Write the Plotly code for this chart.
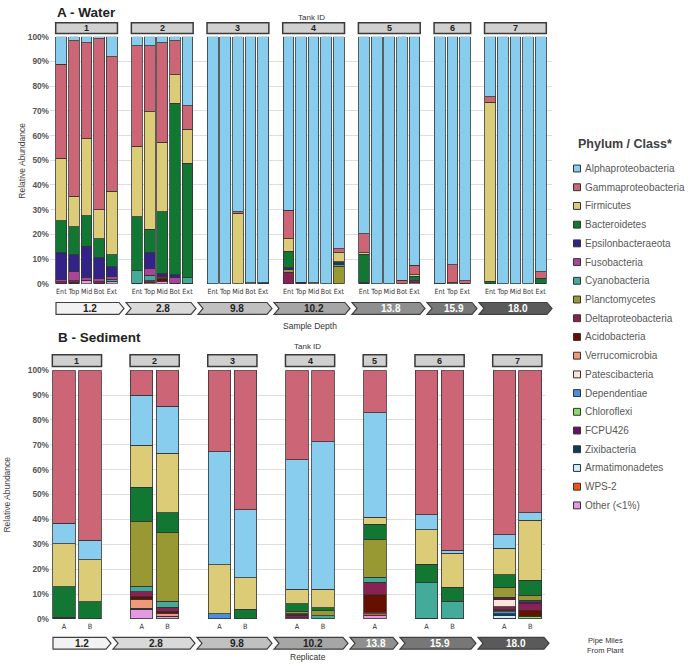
import plotly.graph_objects as go

W, H = 696, 668
def px(x): return x / W
def py(y): return 1 - y / H

# ---------------- data ----------------
series = ["Alphaproteobacteria", "Gammaproteobacteria", "Firmicutes", "Bacteroidetes",
          "Epsilonbacteraeota", "Fusobacteria", "Cyanobacteria", "Planctomycetes",
          "Deltaproteobacteria", "Acidobacteria", "Verrucomicrobia", "Patescibacteria",
          "Dependentiae", "Chloroflexi", "FCPU426", "Zixibacteria", "Armatimonadetes",
          "WPS-2", "Other (<1%)"]
colors = ["#88CCEE", "#CC6677", "#DDCC77", "#117733", "#332288", "#AA4499", "#44AA99",
          "#999933", "#882255", "#661100", "#EE9977", "#FDE4D6", "#4A8FD9", "#88DD66",
          "#661166", "#0B3D5C", "#CCEEFF", "#EE5511", "#E49AE0"]

tanks = ["1", "2", "3", "4", "5", "6", "7"]
depths = ["1.2", "2.8", "9.8", "10.2", "13.8", "15.9", "18.0"]

# Panel A - water: sample positions per tank
water_samples = [["Ent", "Top", "Mid", "Bot", "Ext"], ["Ent", "Top", "Mid", "Bot", "Ext"],
                 ["Ent", "Top", "Mid", "Bot", "Ext"], ["Ent", "Top", "Mid", "Bot", "Ext"],
                 ["Ent", "Top", "Mid", "Bot", "Ext"], ["Ent", "Top", "Ext"],
                 ["Ent", "Top", "Mid", "Bot", "Ext"]]
# values (%) in bar order: T1(5) T2(5) T3(5) T4(5) T5(5) T6(3) T7(5)
water = {
    "Alphaproteobacteria": [11.2, 1.5, 2.5, 0.8, 8.0,  3.6, 3.6, 2.4, 1.5, 27.9,  100, 100, 70.8, 99.5, 99.5,
                            70.3, 99.4, 99.5, 100, 85.8,  79.8, 100, 100, 98.5, 92.6,  99.7, 92.2, 98.8,
                            24.3, 100, 100, 100, 95.2],
    "Gammaproteobacteria": [38.0, 63.0, 38.7, 69.3, 54.5,  40.7, 26.7, 40.3, 13.8, 9.5,  0, 0, 0.7, 0, 0,
                            11.5, 0, 0, 0, 1.6,  7.7, 0, 0, 1.5, 3.8,  0.3, 7.1, 1.0,
                            2.2, 0, 0, 0, 2.5],
    "Firmicutes":          [25.3, 12.4, 31.3, 11.7, 25.7,  28.6, 47.6, 28.2, 11.7, 13.7,  0, 0, 28.5, 0.5, 0,
                            5.0, 0, 0.5, 0, 3.6,  0.5, 0, 0, 0, 0.5,  0, 0.7, 0,
                            72.5, 0, 0, 0, 0],
    "Bacteroidetes":       [13.0, 11.3, 12.3, 7.7, 4.9,  21.8, 9.6, 25.1, 69.4, 46.5,  0, 0, 0, 0, 0,
                            6.7, 0, 0, 0, 0.5,  11.5, 0, 0, 0, 1.8,  0, 0, 0,
                            1.0, 0, 0, 0, 2.0],
    "Epsilonbacteraeota":  [10.8, 6.9, 12.5, 8.5, 4.1,  0, 6.4, 1.0, 1.1, 0,  0, 0, 0, 0, 0.5,
                            0.9, 0, 0, 0, 0.5,  0.5, 0, 0, 0, 0,  0, 0, 0,
                            0, 0, 0, 0, 0.3],
    "Fusobacteria":        [0.9, 3.7, 1.2, 1.2, 1.0,  0, 2.6, 0, 2.2, 0,  0, 0, 0, 0, 0,
                            0, 0, 0, 0, 0,  0, 0, 0, 0, 0,  0, 0, 0,
                            0, 0, 0, 0, 0],
    "Cyanobacteria":       [0, 0, 0, 0, 0.8,  5.0, 2.3, 0, 0, 2.1,  0, 0, 0, 0, 0,
                            0, 0, 0, 0, 1.0,  0, 0, 0, 0, 0,  0, 0, 0,
                            0, 0, 0, 0, 0],
    "Planctomycetes":      [0, 0, 0, 0, 0,  0, 0, 0, 0, 0,  0, 0, 0, 0, 0,
                            1.0, 0, 0, 0, 7.0,  0, 0, 0, 0, 0,  0, 0, 0,
                            0, 0, 0, 0, 0],
    "Deltaproteobacteria": [0.5, 0.6, 0, 0.5, 0,  0, 0.7, 1.0, 0, 0,  0, 0, 0, 0, 0,
                            4.6, 0.6, 0, 0, 0,  0, 0, 0, 0, 0.9,  0, 0, 0,
                            0, 0, 0, 0, 0],
    "Acidobacteria":       [0, 0.6, 0, 0, 0,  0, 0, 1.0, 0, 0,  0, 0, 0, 0, 0,
                            0, 0, 0, 0, 0,  0, 0, 0, 0, 0,  0, 0, 0,
                            0, 0, 0, 0, 0],
    "Other (<1%)":         [0.3, 0, 1.5, 0.3, 1.0,  0.3, 0.5, 1.0, 0.3, 0.3,  0, 0, 0, 0, 0,
                            0, 0, 0, 0, 0,  0, 0, 0, 0, 0.4,  0, 0, 0.2,
                            0, 0, 0, 0, 0],
}

# Panel B - sediment: replicates per tank
sed_samples = [["A", "B"], ["A", "B"], ["A", "B"], ["A", "B"], ["A"], ["A", "B"], ["A", "B"]]
# values (%) in bar order: T1 A,B | T2 A,B | T3 A,B | T4 A,B | T5 A | T6 A,B | T7 A,B
sediment = {
    "Gammaproteobacteria": [61.6, 68.3, 10.0, 14.5, 32.7, 56.2, 36.0, 28.8, 17.2, 58.2, 72.3, 66.2, 57.3],
    "Alphaproteobacteria": [8.2, 7.8, 20.1, 18.9, 45.5, 27.3, 52.1, 59.3, 42.0, 5.9, 1.3, 5.3, 3.1],
    "Firmicutes":          [17.3, 16.9, 17.0, 24.0, 19.7, 12.5, 5.8, 7.4, 2.7, 14.0, 13.6, 10.8, 24.0],
    "Bacteroidetes":       [12.2, 7.0, 13.6, 7.8, 0, 4.0, 2.9, 1.2, 6.1, 7.4, 5.7, 5.0, 6.1],
    "Planctomycetes":      [0, 0, 26.2, 27.7, 0, 0, 1.1, 2.0, 15.2, 0, 0, 4.0, 2.0],
    "Cyanobacteria":       [0, 0, 2.1, 2.4, 0, 0, 0.3, 1.3, 2.1, 14.2, 7.1, 0, 0.5],
    "FCPU426":             [0, 0, 0, 0, 0, 0, 0.5, 0, 0, 0, 0, 0.9, 0.8],
    "Patescibacteria":     [0, 0, 0, 0, 0, 0, 0, 0, 0, 0, 0, 2.8, 0],
    "Deltaproteobacteria": [0, 0, 1.8, 1.5, 0, 0, 0.8, 0, 4.9, 0, 0, 1.2, 2.6],
    "Acidobacteria":       [0, 0, 1.5, 0.8, 0, 0, 0, 0, 7.0, 0, 0, 0.5, 2.6],
    "Verrucomicrobia":     [0, 0, 3.3, 1.4, 0, 0, 0, 0, 0.7, 0, 0, 0, 0],
    "Chloroflexi":         [0, 0, 0, 0, 0, 0, 0, 0, 0, 0, 0, 0.4, 1.0],
    "Dependentiae":        [0, 0, 0, 0, 2.1, 0, 0, 0, 0, 0, 0, 0.8, 0],
    "Zixibacteria":        [0.4, 0, 0.4, 0, 0, 0, 0, 0, 0, 0, 0, 0.8, 0],
    "Armatimonadetes":     [0, 0, 0, 0, 0, 0, 0, 0, 0, 0, 0, 1.0, 0],
    "WPS-2":               [0, 0, 0, 0, 0, 0, 0, 0, 0.7, 0, 0, 0, 0],
    "Other (<1%)":         [0.3, 0, 4.0, 1.0, 0, 0, 0.5, 0, 1.4, 0.3, 0, 0.3, 0],
}

# stacking order, bottom -> top
stack_A = ["Other (<1%)", "WPS-2", "Armatimonadetes", "Zixibacteria", "Dependentiae", "Chloroflexi",
           "Patescibacteria", "Verrucomicrobia", "Acidobacteria", "Deltaproteobacteria", "FCPU426",
           "Planctomycetes", "Cyanobacteria", "Fusobacteria", "Epsilonbacteraeota", "Bacteroidetes",
           "Firmicutes", "Gammaproteobacteria", "Alphaproteobacteria"]
stack_B = ["Other (<1%)", "WPS-2", "Armatimonadetes", "Zixibacteria", "Dependentiae", "Chloroflexi",
           "Verrucomicrobia", "Acidobacteria", "Deltaproteobacteria", "Patescibacteria", "FCPU426",
           "Cyanobacteria", "Planctomycetes", "Bacteroidetes", "Firmicutes", "Alphaproteobacteria",
           "Gammaproteobacteria"]

# ---------------- layout helpers ----------------
def slots(groups):
    pos, labels, spans, s = [], [], [], 0
    for g in groups:
        first = s
        for lab in g:
            pos.append(s); labels.append(lab); s += 1
        spans.append((first, s - 1))
        s += 1
    return pos, labels, spans

posA, labA, spanA = slots(water_samples)
posB, labB, spanB = slots(sed_samples)
cmap = dict(zip(series, colors))

FONT = "Liberation Sans, Arial, sans-serif"
NARROW = "DejaVu Sans Condensed, Roboto, Arial, sans-serif"
OUT = "#333333"

fig = go.Figure()
for name in stack_A:
    if name in water:
        fig.add_trace(go.Bar(x=posA, y=water[name], name=name, width=0.85,
                             marker=dict(color=cmap[name], line=dict(color=OUT, width=0.8)),
                             xaxis="x", yaxis="y", showlegend=False, hovertemplate=name + ": %{y}%<extra></extra>"))
for name in stack_B:
    if name in sediment:
        fig.add_trace(go.Bar(x=posB, y=sediment[name], name=name, width=0.87,
                             marker=dict(color=cmap[name], line=dict(color=OUT, width=0.8)),
                             xaxis="x2", yaxis="y2", showlegend=False, hovertemplate=name + ": %{y}%<extra></extra>"))

# axes geometry (pixels)
A_x0, A_x1, A_top, A_bot = 50, 552, 32.3, 283
B_x0, B_x1, B_top, B_bot = 50, 545, 370.7, 623.3
rngA = [-0.9, 38.9]
rngB = [-0.54, 18.57]

yax = dict(range=[0, 100], dtick=10, ticksuffix="%", showgrid=True, gridcolor="#dedede", gridwidth=0.8,
           zeroline=False, showline=False, ticks="",
           tickfont=dict(family=FONT, size=8.3, color="#555555", weight="bold"), fixedrange=True)
fig.update_layout(
    width=W, height=H, margin=dict(l=0, r=0, t=0, b=0),
    paper_bgcolor="white", plot_bgcolor="white", barmode="stack", showlegend=False,
    xaxis=dict(domain=[px(A_x0), px(A_x1)], range=rngA, tickvals=posA, ticktext=labA, showgrid=False,
               zeroline=False, showline=False, ticks="", tickangle=0, ticklabelstandoff=2,
               tickfont=dict(family=NARROW, size=7.1, color="#333333")),
    yaxis=dict(domain=[py(A_bot), py(A_top)], anchor="x", **yax),
    xaxis2=dict(domain=[px(B_x0), px(B_x1)], range=rngB, tickvals=posB, ticktext=labB, showgrid=False,
                zeroline=False, showline=False, ticks="", tickangle=0, anchor="y2", ticklabelstandoff=2,
                tickfont=dict(family=NARROW, size=7.3, color="#333333")),
    yaxis2=dict(domain=[py(B_bot), py(B_top)], anchor="x2", **yax),
)

shapes, ann = [], []

def text(x, y, s, size=8, color="#333333", bold=False, xanchor="center", angle=0, family=FONT):
    ann.append(dict(x=px(x), y=py(y), xref="paper", yref="paper", text=s, showarrow=False,
                    xanchor=xanchor, yanchor="middle", textangle=angle,
                    font=dict(family=family, size=size, color=color, weight="bold" if bold else "normal")))

# tank header boxes
def headers(spans, xref, top, bot):
    for (a, b), t in zip(spans, tanks):
        shapes.append(dict(type="rect", xref=xref, yref="paper", x0=a - 0.45, x1=b + 0.45,
                           y0=py(bot), y1=py(top), fillcolor="#d0d0d0",
                           line=dict(color="#3a3a3a", width=1.5)))
        ann.append(dict(x=(a + b) / 2, y=py((top + bot) / 2), xref=xref, yref="paper", text=t,
                        showarrow=False, xanchor="center", yanchor="middle",
                        font=dict(family=FONT, size=9, color="#222222", weight="bold")))

headers(spanA, "x", 18, 29)
headers(spanB, "x2", 355, 367)

# depth chevrons
chev_fill = ["#f2f2f2", "#d9d9d9", "#c0c0c0", "#a6a6a6", "#8f8f8f", "#777777", "#5a5a5a"]
chev_text = ["#222222"] * 4 + ["#ffffff"] * 3
def chevrons(bounds, top, bot):
    mid = (top + bot) / 2
    d = 5
    for i in range(len(depths)):
        L, R = bounds[i] + 1, bounds[i + 1] - 1
        pts = [(L, top), (R - d, top), (R, mid), (R - d, bot), (L, bot)]
        if i > 0:
            pts.append((L + d, mid))
        path = "M " + " L ".join(f"{px(x):.5f},{py(y):.5f}" for x, y in pts) + " Z"
        shapes.append(dict(type="path", xref="paper", yref="paper", path=path, fillcolor=chev_fill[i],
                           line=dict(color="#404040", width=1.2)))
        text((L + R) / 2 + (2 if i > 0 else 0), mid, depths[i], size=10, color=chev_text[i], bold=True)

chevrons([55, 125, 197, 273, 351, 426, 478, 553], 302, 314)
chevrons([52, 112, 196, 273, 349, 399, 477, 550], 642, 654)

# titles and labels
text(55, 8, "A - Water", size=13.5, color="#222222", bold=True, xanchor="left")
text(56, 338, "B - Sediment", size=13.5, color="#222222", bold=True, xanchor="left")
text(311, 12.5, "Tank ID", size=8)
text(307, 347, "Tank ID", size=8)
text(310, 326, "Sample Depth", size=8.5)
text(308, 662, "Replicate", size=8.5)
text(22, 158, "Relative Abundance", size=8.5, color="#444444", angle=-90)
text(7, 497, "Relative Abundance", size=8.5, color="#444444", angle=-90)
text(585, 650, "Pipe Miles<br>From Plant", size=7.5, xanchor="left")

# legend (manual)
text(576, 141, "Phylum / Class*", size=12.5, color="#404040", bold=True, xanchor="left")
for i, (name, c) in enumerate(zip(series, colors)):
    yc = 166 + 19 * i
    shapes.append(dict(type="rect", xref="paper", yref="paper", x0=px(573.5), x1=px(580.5),
                       y0=py(yc + 3.5), y1=py(yc - 3.5), fillcolor=c, line=dict(color="#333333", width=1)))
    text(583, yc, name, size=10, color="#595959", xanchor="left")

fig.update_layout(shapes=shapes, annotations=ann)
fig.write_html("out.html")
